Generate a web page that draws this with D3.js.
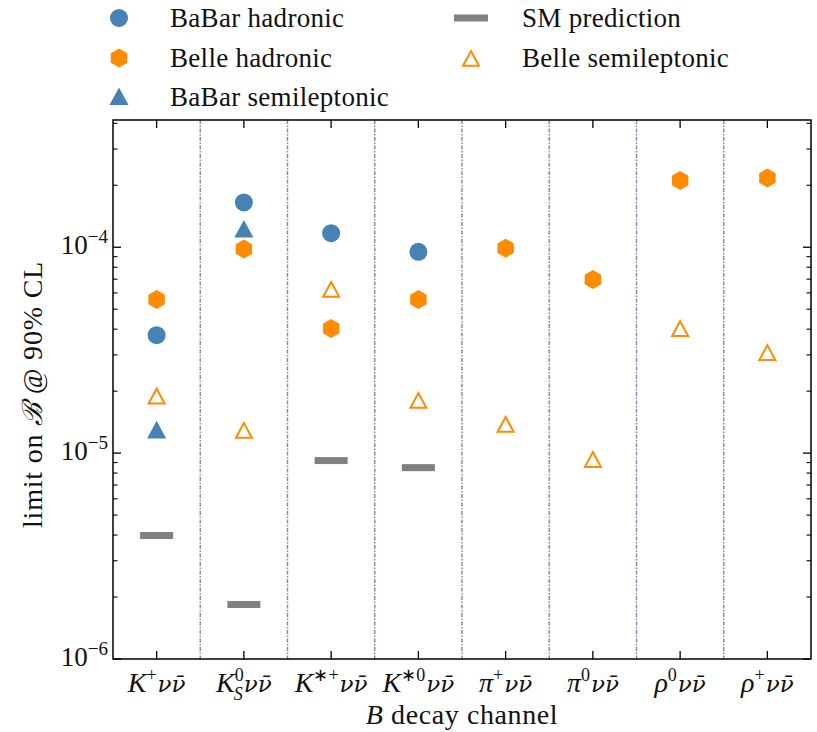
<!DOCTYPE html>
<html lang="en">
<head>
<meta charset="utf-8" />
<script src="https://cdn.jsdelivr.net/npm/d3@7"></script>
<style>
body { margin: 0; background: #fff; }
text { font-family: 'Liberation Serif', serif; fill: #111; }
.nu { font-family: 'DejaVu Serif', serif; font-size: 23px; }
</style>
</head>
<body>
<div id="chart"></div>
<script>
// channels along the x axis
var categories = ["Kp", "KS0", "Ksp", "Ks0", "pip", "pi0", "rho0", "rhop"];
// tick labels: base, superscript, subscript
var tickBase = ["K", "K", "K", "K", "\u03c0", "\u03c0", "\u03c1", "\u03c1"];
var tickSup  = ["+", "0", "\u2217+", "\u22170", "+", "0", "0", "+"];
var tickSub  = ["", "S", "", "", "", "", "", ""];

// limits on the branching fraction (null = no measurement)
var babarHadronic     = [3.74e-5, 1.65e-4, 1.17e-4, 9.5e-5, null, null, null, null];
var belleHadronic     = [5.57e-5, 9.8e-5, 4.03e-5, 5.57e-5, 9.9e-5, 6.97e-5, 2.11e-4, 2.17e-4];
var babarSemileptonic = [1.29e-5, 1.22e-4, null, null, null, null, null, null];
var belleSemileptonic = [1.88e-5, 1.28e-5, 6.2e-5, 1.79e-5, 1.37e-5, 9.25e-6, 4.0e-5, 3.06e-5];
var smPrediction      = [3.98e-6, 1.84e-6, 9.2e-6, 8.5e-6, null, null, null, null];

var yTicks = [1e-6, 1e-5, 1e-4];
var yTickExp = ["\u22126", "\u22125", "\u22124"];

var width = 817, height = 732;
var pLeft = 113, pRight = 811, pTop = 120, pBottom = 659;

var blue = "#4682b4", orange = "#ff8c00", grey = "#808080";

var svg = d3.select("#chart").append("svg")
  .attr("width", width)
  .attr("height", height);

var x = d3.scaleBand().domain(categories).range([pLeft, pRight]);
var y = d3.scaleLog().domain([1e-6, 4.15e-4]).range([pBottom, pTop]);

// separators between channels
svg.selectAll(".sep")
  .data(categories.slice(1))
  .enter().append("line")
  .attr("x1", function(d) { return x(d); })
  .attr("x2", function(d) { return x(d); })
  .attr("y1", pTop).attr("y2", pBottom)
  .attr("stroke", "#7b8ca3")
  .attr("stroke-width", 1.4)
  .attr("stroke-dasharray", "4,1.5,1.5,1.5");

// minor & major ticks on left/right (inward)
var minor = [];
[1e-6, 1e-5, 1e-4].forEach(function(dec) {
  for (var k = 2; k <= 9; k++) if (dec * k <= 4.15e-4) minor.push(dec * k);
});

function yTickLines(x0, dir) {
  svg.selectAll(null).data(yTicks).enter().append("line")
    .attr("x1", x0).attr("x2", x0 + dir * 8)
    .attr("y1", function(d) { return y(d); })
    .attr("y2", function(d) { return y(d); })
    .attr("stroke", "#000").attr("stroke-width", 1.3);
  svg.selectAll(null).data(minor).enter().append("line")
    .attr("x1", x0).attr("x2", x0 + dir * 4.5)
    .attr("y1", function(d) { return y(d); })
    .attr("y2", function(d) { return y(d); })
    .attr("stroke", "#000").attr("stroke-width", 1.1);
}
yTickLines(pLeft, 1);
yTickLines(pRight, -1);

// x ticks top & bottom
function xTickLines(y0, dir) {
  svg.selectAll(null).data(categories).enter().append("line")
    .attr("x1", function(d) { return x(d) + x.bandwidth() / 2; })
    .attr("x2", function(d) { return x(d) + x.bandwidth() / 2; })
    .attr("y1", y0).attr("y2", y0 + dir * 8)
    .attr("stroke", "#000").attr("stroke-width", 1.3);
}
xTickLines(pTop, 1);
xTickLines(pBottom, -1);

// frame
svg.append("rect")
  .attr("x", pLeft).attr("y", pTop)
  .attr("width", pRight - pLeft).attr("height", pBottom - pTop)
  .attr("fill", "none").attr("stroke", "#000").attr("stroke-width", 1.5);

// y tick labels
var yl = svg.selectAll(".ylab").data(yTicks).enter().append("text")
  .attr("x", pLeft - 5)
  .attr("y", function(d) { return y(d) + 7; })
  .attr("text-anchor", "end")
  .style("font-size", "27px");
yl.append("tspan").text("10");
yl.append("tspan").attr("dy", -11).style("font-size", "19px")
  .text(function(d, i) { return yTickExp[i]; });

// x tick labels
var xl = svg.selectAll(".xlab").data(categories).enter().append("text")
  .attr("x", function(d) { return x(d) + x.bandwidth() / 2; })
  .attr("y", 692)
  .attr("text-anchor", "middle")
  .style("font-size", "28px")
  .style("font-style", "italic");
xl.each(function(d, i) {
  var t = d3.select(this);
  t.append("tspan").text(tickBase[i]);
  if (tickSub[i]) {
    t.append("tspan").attr("dy", -11).style("font-size", "18px").style("font-style", "normal").text(tickSup[i]);
    t.append("tspan").attr("dx", -10).attr("dy", 19).style("font-size", "18px").text(tickSub[i]);
    t.append("tspan").attr("class", "nu").attr("dx", 1).attr("dy", -8).text("\u03bd\u03bd\u0304");
  } else {
    t.append("tspan").attr("dy", -11).style("font-size", "18px").style("font-style", "normal").text(tickSup[i]);
    t.append("tspan").attr("class", "nu").attr("dx", 1).attr("dy", 11).text("\u03bd\u03bd\u0304");
  }
});

// axis titles
var xt = svg.append("text")
  .attr("x", (pLeft + pRight) / 2).attr("y", 724)
  .attr("text-anchor", "middle")
  .style("font-size", "28px")
  .style("letter-spacing", "0.6px");
xt.append("tspan").style("font-style", "italic").text("B");
xt.append("tspan").text(" decay channel");

var yt = svg.append("text")
  .attr("transform", "translate(42," + ((pTop + pBottom) / 2 + 5) + ") rotate(-90)")
  .attr("text-anchor", "middle")
  .style("font-size", "28px")
  .style("letter-spacing", "0.8px");
yt.append("tspan").text("limit on ");
yt.append("tspan").style("font-style", "italic").text("\u212c");
yt.append("tspan").text(" @ 90% CL");

// marker shapes
function hexPath(r) {
  var pts = d3.range(6).map(function(k) {
    var a = Math.PI / 2 + k * Math.PI / 3;
    return [r * Math.cos(a), -r * Math.sin(a)];
  });
  return "M" + pts.join("L") + "Z";
}
function triPath(r) {
  return "M0," + (-r) + "L" + r + "," + (r * 0.85) + "L" + (-r) + "," + (r * 0.85) + "Z";
}

function points(vals) {
  return vals.map(function(v, i) { return {c: categories[i], v: v}; })
    .filter(function(d) { return d.v != null; });
}
function cx(d) { return x(d.c) + x.bandwidth() / 2; }

// SM prediction bars
svg.selectAll(".sm").data(points(smPrediction)).enter().append("rect")
  .attr("x", function(d) { return cx(d) - 16.5; })
  .attr("y", function(d) { return y(d.v) - 3.5; })
  .attr("width", 33).attr("height", 7)
  .attr("fill", grey);

svg.selectAll(".bellesl").data(points(belleSemileptonic)).enter().append("path")
  .attr("transform", function(d) { return "translate(" + cx(d) + "," + y(d.v) + ")"; })
  .attr("d", triPath(8))
  .attr("fill", "#fff").attr("stroke", orange).attr("stroke-width", 2);

svg.selectAll(".babarsl").data(points(babarSemileptonic)).enter().append("path")
  .attr("transform", function(d) { return "translate(" + cx(d) + "," + y(d.v) + ")"; })
  .attr("d", triPath(9.5))
  .attr("fill", blue);

svg.selectAll(".bellehad").data(points(belleHadronic)).enter().append("path")
  .attr("transform", function(d) { return "translate(" + cx(d) + "," + y(d.v) + ")"; })
  .attr("d", hexPath(9.5))
  .attr("fill", orange);

svg.selectAll(".babarhad").data(points(babarHadronic)).enter().append("circle")
  .attr("cx", cx)
  .attr("cy", function(d) { return y(d.v); })
  .attr("r", 9)
  .attr("fill", blue);

// legend
var leg = svg.append("g");
leg.append("circle").attr("cx", 119).attr("cy", 18).attr("r", 9).attr("fill", blue);
leg.append("path").attr("transform", "translate(119,58)").attr("d", hexPath(9.5)).attr("fill", orange);
leg.append("path").attr("transform", "translate(119,97)").attr("d", triPath(9.5)).attr("fill", blue);
leg.append("rect").attr("x", 454).attr("y", 14.5).attr("width", 34).attr("height", 7).attr("fill", grey);
leg.append("path").attr("transform", "translate(471,59)").attr("d", triPath(8))
  .attr("fill", "#fff").attr("stroke", orange).attr("stroke-width", 2);

var legText = [
  [170, 18, "BaBar hadronic"], [170, 58, "Belle hadronic"], [170, 97, "BaBar semileptonic"],
  [522, 18, "SM prediction"], [522, 58, "Belle semileptonic"]
];
leg.selectAll("text").data(legText).enter().append("text")
  .attr("x", function(d) { return d[0]; })
  .attr("y", function(d) { return d[1] + 9; })
  .style("font-size", "27px")
  .style("letter-spacing", "0.3px")
  .text(function(d) { return d[2]; });
</script>
</body>
</html>
